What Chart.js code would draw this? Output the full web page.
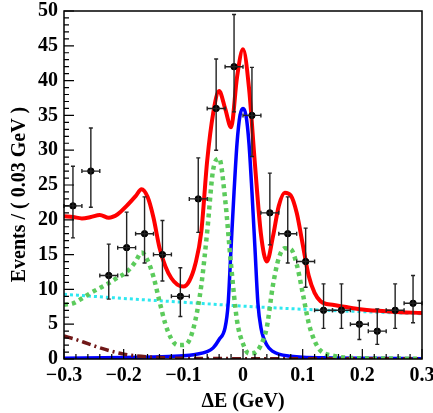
<!DOCTYPE html>
<html>
<head>
<meta charset="utf-8">
<script src="https://cdn.jsdelivr.net/npm/chart.js@4.4.1/dist/chart.umd.min.js"></script>
<style>
html,body{margin:0;padding:0;background:#fff;}
#wrap{width:433px;height:413px;}
</style>
</head>
<body>
<div id="wrap"><canvas id="c" width="433" height="413"></canvas></div>
<script>
// ---- data ----
const binCenters = [-0.285,-0.255,-0.225,-0.195,-0.165,-0.135,-0.105,-0.075,-0.045,-0.015,0.015,0.045,0.075,0.105,0.135,0.165,0.195,0.225,0.255,0.285];
const counts     = [22,27,12,16,18,15,9,23,36,42,35,21,18,14,7,7,5,4,7,8];
const errLow     = [4.6,5.2,3.4,4.0,4.2,3.8,2.9,4.8,6.0,6.5,5.9,4.6,4.2,3.7,2.6,2.6,2.2,1.9,2.6,2.8];
const errHigh    = [5.7,6.2,4.5,5.1,5.3,4.9,4.1,5.9,7.1,7.5,6.9,5.7,5.3,4.8,3.8,3.8,3.4,3.2,3.8,4.0];
const binHalfWidth = 0.015;

const totalX = [-0.3,-0.285,-0.27,-0.255,-0.24,-0.225,-0.21,-0.195,-0.18,-0.17,-0.16,-0.15,-0.14,-0.13,-0.12,-0.11,-0.1,-0.09,-0.08,-0.07,-0.06,-0.05,-0.04,-0.03,-0.02,-0.01,0,0.01,0.02,0.03,0.04,0.05,0.06,0.07,0.08,0.09,0.1,0.11,0.12,0.13,0.14,0.15,0.17,0.2,0.25,0.3];
const totalY = [20.5,20.4,20.2,20.4,20.7,20.3,20.8,22.0,23.4,24.4,23.3,20.3,16.0,13.3,11.6,10.7,10.4,11.2,13.6,18.2,28.5,35.3,38.5,36.0,33.3,40.5,44.5,39.0,28.0,18.0,14.0,17.5,22.0,23.9,23.5,21.0,16.5,12.0,9.5,8.3,7.9,7.8,7.5,7.1,6.8,6.6];

const signalX = [-0.3,-0.2,-0.15,-0.1,-0.08,-0.06,-0.05,-0.04,-0.03,-0.025,-0.02,-0.015,-0.01,-0.005,0,0.005,0.01,0.015,0.02,0.025,0.03,0.04,0.05,0.06,0.08,0.1,0.15,0.2,0.3];
const signalY = [0.1,0.2,0.3,0.45,0.65,1.05,1.6,2.8,4.5,7.8,16.0,24.0,31.0,35.0,36.0,35.0,31.0,24.0,16.0,8.0,4.5,2.0,1.1,0.7,0.4,0.25,0.15,0.1,0.05];

const peakingX = [-0.3,-0.285,-0.27,-0.255,-0.24,-0.225,-0.21,-0.195,-0.18,-0.17,-0.16,-0.15,-0.14,-0.13,-0.12,-0.11,-0.1,-0.09,-0.08,-0.07,-0.06,-0.05,-0.04,-0.03,-0.02,-0.01,0,0.01,0.02,0.03,0.04,0.05,0.06,0.07,0.08,0.09,0.1,0.11,0.12,0.13,0.15,0.2,0.3];
const peakingY = [7.8,8.0,8.7,9.5,10.2,10.9,11.7,12.5,14.0,15.3,14.2,11.8,8.3,5.0,2.9,2.0,2.0,2.7,5.5,10.5,18.3,27.2,28.8,23.0,13.5,5.5,2.2,0.8,0.9,2.0,4.6,10.5,14.5,15.9,15.8,13.6,9.5,5.2,2.6,1.2,0.5,0.1,0.05];

const bkgX = [-0.3,-0.2,-0.1,0,0.1,0.2,0.3];
const bkgY = [9.3,8.7,8.15,7.6,7.15,6.8,6.5];

const otherX = [-0.3,-0.28,-0.26,-0.24,-0.22,-0.2,-0.18,-0.16,-0.14,-0.1,0,0.3];
const otherY = [3.3,2.8,2.2,1.6,1.1,0.7,0.45,0.3,0.2,0.1,0.05,0.02];

const xTickStep = 0.1, yTickStep = 5;
const xTitle = 'ΔE (GeV)';
const yTitle = 'Events / ( 0.03 GeV )';

// ---- build ----
const pts = (xs, ys) => xs.map((x, i) => ({x, y: ys[i]}));
const FONT = 'Liberation Serif';

const frameAndTicks = {
  id: 'frameAndTicks',
  afterDatasetsDraw(chart) {
    const {ctx, chartArea: a, scales: {x, y}} = chart;
    ctx.save();
    // error bars
    ctx.strokeStyle = '#222';
    ctx.lineWidth = 1.4;
    binCenters.forEach((c, i) => {
      const px = x.getPixelForValue(c);
      const py = y.getPixelForValue(counts[i]);
      const pl = x.getPixelForValue(c - binHalfWidth);
      const pr = x.getPixelForValue(c + binHalfWidth);
      const pt = y.getPixelForValue(counts[i] + errHigh[i]);
      const pb = y.getPixelForValue(counts[i] - errLow[i]);
      ctx.beginPath();
      ctx.moveTo(px, pt); ctx.lineTo(px, pb);
      ctx.moveTo(pl, py); ctx.lineTo(pr, py);
      ctx.moveTo(px - 2, pt); ctx.lineTo(px + 2, pt);
      ctx.moveTo(px - 2, pb); ctx.lineTo(px + 2, pb);
      ctx.moveTo(pl, py - 2); ctx.lineTo(pl, py + 2);
      ctx.moveTo(pr, py - 2); ctx.lineTo(pr, py + 2);
      ctx.stroke();
    });
    // frame
    ctx.strokeStyle = '#000';
    ctx.lineWidth = 1.5;
    ctx.strokeRect(a.left, a.top, a.right - a.left, a.bottom - a.top);
    // inward ticks
    ctx.lineWidth = 1.2;
    ctx.beginPath();
    for (let i = Math.round(y.min); i <= Math.round(y.max); i++) {
      const py = y.getPixelForValue(i);
      const len = (i % 5 === 0) ? 10 : 5;
      ctx.moveTo(a.left, py); ctx.lineTo(a.left + len, py);
    }
    for (let k = -30; k <= 30; k += 2) {
      const px = x.getPixelForValue(k / 100);
      const len = (k % 10 === 0) ? 10 : 5;
      ctx.moveTo(px, a.bottom); ctx.lineTo(px, a.bottom - len);
    }
    ctx.stroke();
    // axis titles
    ctx.fillStyle = '#000';
    ctx.font = 'bold 20px "' + FONT + '"';
    ctx.textAlign = 'center';
    ctx.textBaseline = 'middle';
    ctx.fillText(xTitle, (a.left + a.right) / 2, 402);
    ctx.translate(20, 194.5);
    ctx.rotate(-Math.PI / 2);
    ctx.fillText(yTitle, 0, 0);
    ctx.restore();
  }
};

const fmtX = v => {
  const r = Math.round(v * 10) / 10;
  if (r === 0) return '0';
  return r < 0 ? '\u2212' + Math.abs(r).toFixed(1) : r.toFixed(1);
};

new Chart(document.getElementById('c'), {
  type: 'scatter',
  data: {
    datasets: [
      {type: 'scatter', data: pts(binCenters, counts), pointRadius: 3.2, pointBackgroundColor: '#000', pointBorderColor: '#000', order: 0},
      {type: 'line', data: pts(totalX, totalY), borderColor: '#ff0000', borderWidth: 4, pointRadius: 0, cubicInterpolationMode: 'monotone', order: 1},
      {type: 'line', data: pts(peakingX, peakingY), borderColor: '#5ccb5c', borderWidth: 4.5, borderDash: [4, 4], pointRadius: 0, cubicInterpolationMode: 'monotone', order: 2},
      {type: 'line', data: pts(signalX, signalY), borderColor: '#0000ff', borderWidth: 3.5, pointRadius: 0, cubicInterpolationMode: 'monotone', order: 4},
      {type: 'line', data: pts(otherX, otherY), borderColor: '#701818', borderWidth: 3.5, borderDash: [9, 4, 2, 4], pointRadius: 0, cubicInterpolationMode: 'monotone', order: 3},
      {type: 'line', data: pts(bkgX, bkgY), borderColor: '#2ee8f0', borderWidth: 3, borderDash: [3, 3], pointRadius: 0, cubicInterpolationMode: 'monotone', order: 5}
    ]
  },
  options: {
    responsive: false,
    animation: false,
    events: [],
    layout: {padding: {top: 11, right: 11, left: 0, bottom: 0}},
    plugins: {legend: {display: false}, tooltip: {enabled: false}},
    scales: {
      x: {
        type: 'linear', min: -0.3, max: 0.3,
        afterFit: s => { s.height = 54; s.paddingLeft = 0; s.paddingRight = 0; },
        grid: {display: false, drawTicks: false},
        border: {display: false},
        ticks: {stepSize: xTickStep, padding: 5, maxRotation: 0, color: '#000', font: {family: FONT, size: 20, weight: 'bold'}, callback: fmtX}
      },
      y: {
        type: 'linear', min: 0, max: 50,
        afterFit: s => { s.width = 64; s.paddingTop = 0; s.paddingBottom = 0; },
        grid: {display: false, drawTicks: false},
        border: {display: false},
        ticks: {stepSize: yTickStep, padding: 6, color: '#000', font: {family: FONT, size: 20, weight: 'bold'}}
      }
    }
  },
  plugins: [frameAndTicks]
});
</script>
</body>
</html>
